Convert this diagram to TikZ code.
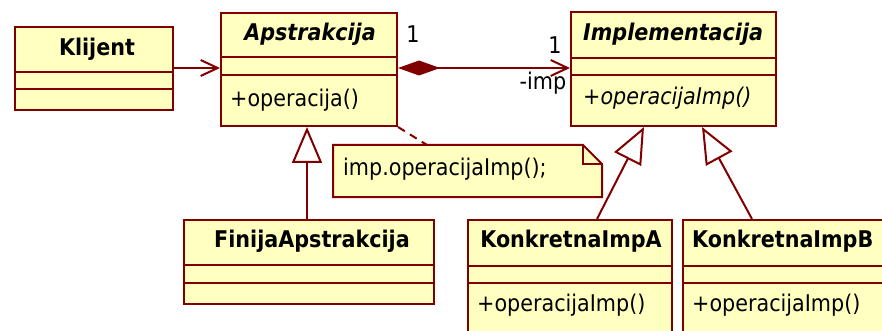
\documentclass[tikz,border=0pt]{standalone}
\usepackage{fontspec}
\setmainfont[FakeStretch=0.9]{DejaVu Sans}
\usetikzlibrary{arrows.meta}
\definecolor{umlfill}{HTML}{FFFFC0}
\definecolor{umlline}{HTML}{800000}
\newcommand{\umlsize}{\fontsize{23}{26}\selectfont}
\tikzset{
  cls/.style={draw=umlline, fill=umlfill, line width=2pt, inner sep=0pt, anchor=north west},
  divider/.style={draw=umlline, line width=2pt},
  txt/.style={inner sep=0pt, font=\umlsize, text=black},
  conn/.style={draw=umlline, line width=2pt},
  gen/.style={conn, -{Triangle[open, length=36pt, width=30pt, fill=white]}},
  nav/.style={conn, -{Straight Barb[length=17pt, width=16pt]}},
}
\begin{document}
\begin{tikzpicture}[x=1pt,y=-1pt]
\useasboundingbox (0,0) rectangle (882,331);
% Klijent
\node[cls, minimum width=158pt, minimum height=83pt] (kl) at (14,26) {};
\draw[divider] ([yshift=-46pt]kl.north west) -- ([yshift=-46pt]kl.north east);
\draw[divider] ([yshift=-63pt]kl.north west) -- ([yshift=-63pt]kl.north east);
\node[txt, font=\umlsize\bfseries] (klt) at (97,49) {Klijent};
% Apstrakcija
\node[cls, minimum width=176pt, minimum height=113pt] (ap) at (220,12) {};
\draw[divider] ([yshift=-45pt]ap.north west) -- ([yshift=-45pt]ap.north east);
\draw[divider] ([yshift=-63pt]ap.north west) -- ([yshift=-63pt]ap.north east);
\node[txt, font=\umlsize\bfseries\itshape] (apt) at (310,34) {Apstrakcija};
\node[txt, anchor=west] (apo) at (230,100) {+operacija()};
% Implementacija
\node[cls, minimum width=205pt, minimum height=114pt] (im) at (570,11) {};
\draw[divider] ([yshift=-47pt]im.north west) -- ([yshift=-47pt]im.north east);
\draw[divider] ([yshift=-64pt]im.north west) -- ([yshift=-64pt]im.north east);
\node[txt, anchor=west, font=\umlsize\bfseries\itshape] (imt) at (583,34) {Implementacija};
\node[txt, anchor=west, font=\umlsize\itshape] (imo) at (583,98) {+operacijaImp()};
% FinijaApstrakcija
\node[cls, minimum width=250pt, minimum height=84pt] (fa) at (183,219) {};
\draw[divider] ([yshift=-46pt]fa.north west) -- ([yshift=-46pt]fa.north east);
\draw[divider] ([yshift=-64pt]fa.north west) -- ([yshift=-64pt]fa.north east);
\node[txt, font=\umlsize\bfseries] (fat) at (312,241) {FinijaApstrakcija};
% KonkretnaImpA
\node[cls, minimum width=204pt, minimum height=130pt] (ka) at (467,219) {};
\draw[divider] ([yshift=-47pt]ka.north west) -- ([yshift=-47pt]ka.north east);
\draw[divider] ([yshift=-64pt]ka.north west) -- ([yshift=-64pt]ka.north east);
\node[txt, font=\umlsize\bfseries] (kat) at (571,241) {KonkretnaImpA};
\node[txt, anchor=west] (kao) at (477,305) {+operacijaImp()};
% KonkretnaImpB
\node[cls, minimum width=215pt, minimum height=130pt] (kb) at (682,219) {};
\draw[divider] ([yshift=-47pt]kb.north west) -- ([yshift=-47pt]kb.north east);
\draw[divider] ([yshift=-64pt]kb.north west) -- ([yshift=-64pt]kb.north east);
\node[txt, anchor=west, font=\umlsize\bfseries] (kbt) at (692,241) {KonkretnaImpB};
\node[txt, anchor=west] (kbo) at (692,305) {+operacijaImp()};
% Note
\draw[draw=umlline, fill=umlfill, line width=2pt]
  (333,145) -- (583,145) -- (602,164) -- (602,197) -- (333,197) -- cycle;
\draw[draw=umlline, line width=2pt] (583,145) -- (583,164) -- (602,164);
\node[inner sep=0pt, minimum width=269pt, minimum height=52pt, anchor=north west] (note) at (333,145) {};
\node[txt, anchor=west] (notet) at (343,169) {imp.operacijaImp();};
\coordinate (notetop) at (427,145);
% Connectors
\draw[nav] (kl.east |- 0,68) -- (ap.west |- 0,68);
\draw[conn, {Diamond[length=42pt, width=15pt, fill=umlline]}-{Straight Barb[length=17pt, width=16pt]}]
  (ap.east |- 0,68) -- (im.west |- 0,68);
\draw[conn, dashed, dash pattern=on 8pt off 6pt] (ap.south east) -- (notetop);
\draw[gen] (fa.north -| 307,0) -- (ap.south -| 307,0);
\draw[gen] (ka.north -| 597,0) -- (im.south -| 644,0);
\draw[gen] (kb.north -| 752,0) -- (im.south -| 702,0);
% Labels
\node[txt] (m1) at (413,34) {1};
\node[txt] (m2) at (555,45) {1};
\node[txt] (rimp) at (543,83) {-imp};
\end{tikzpicture}
\end{document}
